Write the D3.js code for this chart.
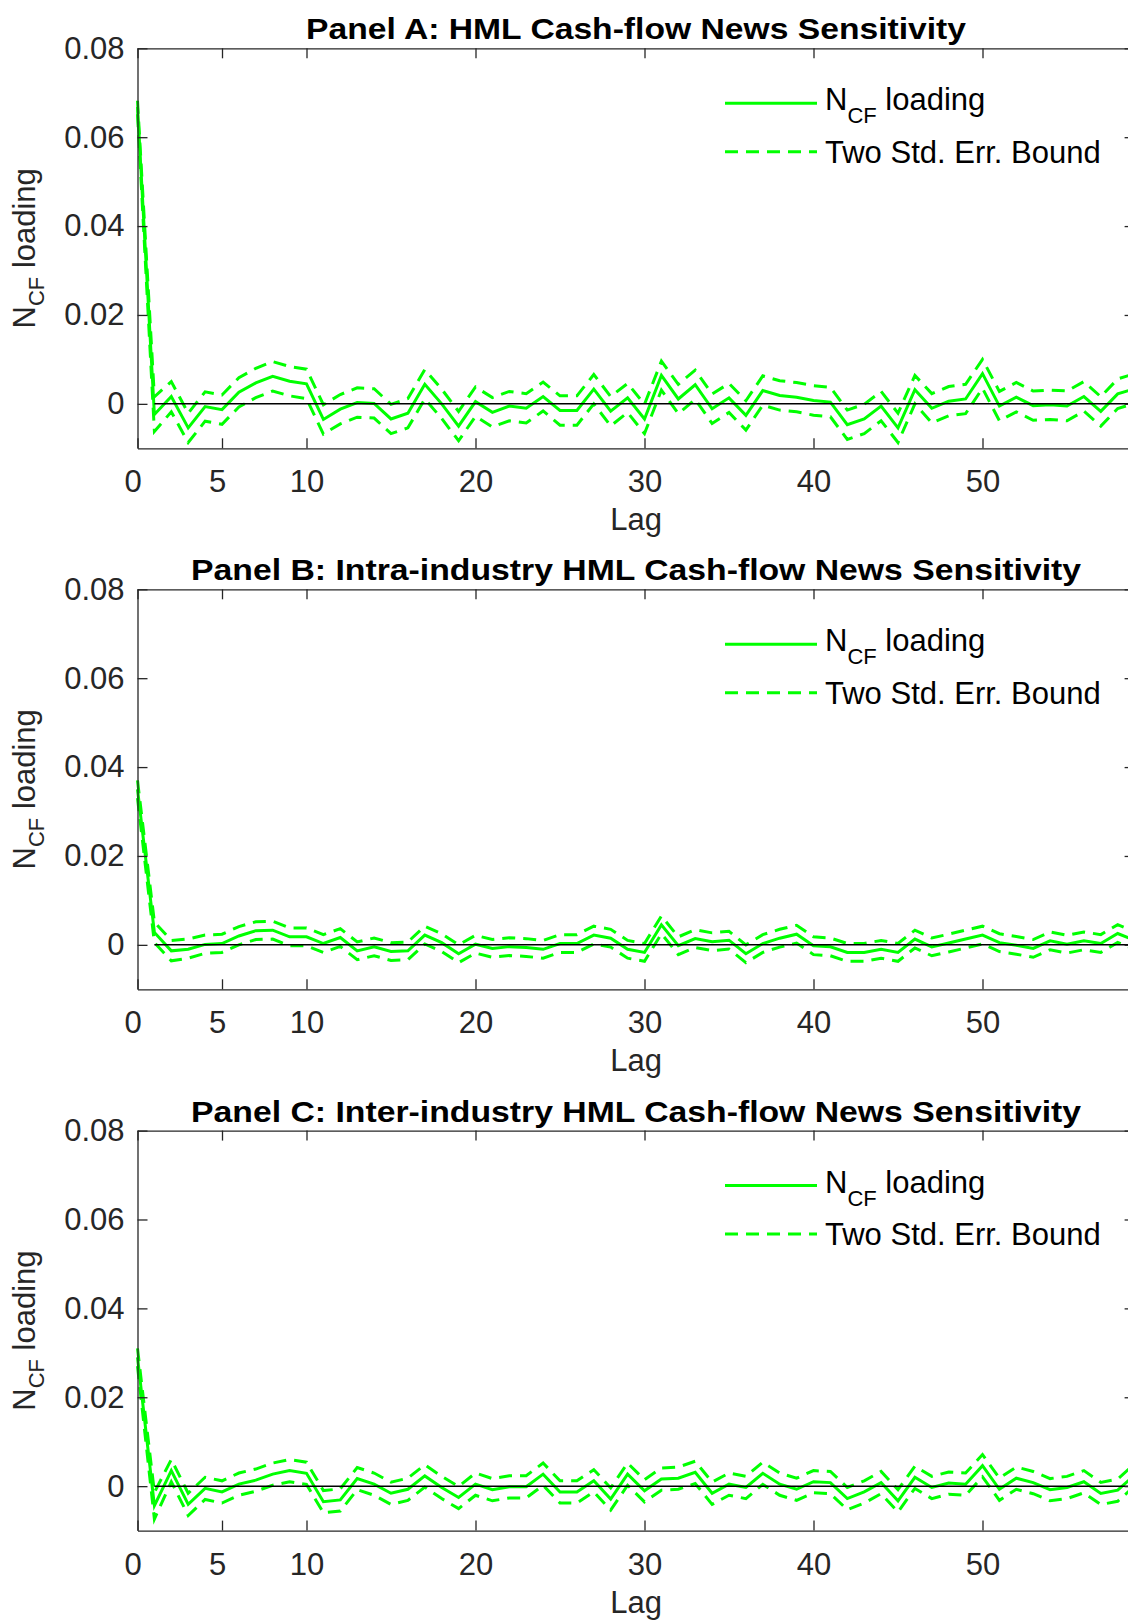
<!DOCTYPE html>
<html>
  <head>
    <style>
      body { margin: 0; background: #fff; }
      text { font-family: "Liberation Sans", Arial, sans-serif; }
    </style>
  </head>
  <body>
    <svg id="container" width="1128" height="1621"></svg>
    <script src="https://cdn.jsdelivr.net/npm/d3@7"></script>
    <script>
      // lags 0..59, loadings in units of 1e-3
      const lags = d3.range(0, 60);
      const xTicks = [0, 5, 10, 20, 30, 40, 50];
      const yTicks = [0, 0.02, 0.04, 0.06, 0.08];

      const panelTitles = [
        "Panel A: HML Cash-flow News Sensitivity",
        "Panel B: Intra-industry HML Cash-flow News Sensitivity",
        "Panel C: Inter-industry HML Cash-flow News Sensitivity"
      ];
      // measured title widths in the original figure
      const titleWidths = [660, 890, 890];

      const loadingA = [66.8, -2.4, 1.65, -5.4, -0.6, -1.3, 2.6, 4.7, 6.2, 5.1, 4.5, -3.5, -1.2, 0.3, 0.1, -3.4, -2.1, 4.4, 0, -5.0,
        0.5, -1.9, -0.5, -1.0, 1.65, -1.5, -1.5, 3.3, -1.65, 1.35, -3.4, 6.4, 1.1, 4.3, -1.1, 1.35, -2.6, 3.0, 1.9, 1.5,
        0.75, 0.4, -4.7, -3.4, -0.5, -5.4, 3.2, -1.0, 0.6, 1.1, 6.8, -0.5, 1.5, -0.4, -0.2, -0.5, 1.65, -1.7, 2.25, 3.4];
      const upperA = [68.2, 1.6, 5.0, -2.1, 2.7, 2.0, 5.9, 8.0, 9.5, 8.4, 7.8, -0.2, 2.1, 3.6, 3.4, -0.1, 1.2, 7.7, 3.3, -1.7,
        3.8, 1.4, 2.8, 2.3, 4.9, 1.8, 1.8, 6.6, 1.65, 4.6, -0.1, 9.6, 4.4, 7.6, 2.2, 4.6, 0.7, 6.3, 5.2, 4.8,
        4.1, 3.7, -1.4, -0.1, 2.8, -2.1, 6.4, 2.3, 3.9, 4.4, 10.0, 2.8, 4.8, 2.9, 3.1, 2.9, 5.0, 1.6, 5.6, 6.8];
      const lowerA = [65.2, -6.2, -1.8, -8.7, -3.9, -4.6, -0.7, 1.4, 2.9, 1.8, 1.2, -6.8, -4.5, -3.0, -3.2, -6.7, -5.4, 1.1, -3.3, -8.3,
        -2.8, -5.2, -3.8, -4.3, -1.6, -4.8, -4.8, 0.0, -4.95, -1.95, -6.7, 3.1, -2.2, 1.0, -4.4, -1.95, -5.9, -0.3, -1.4, -1.8,
        -2.55, -2.9, -8.0, -6.7, -3.8, -8.7, 0.0, -4.3, -2.7, -2.2, 3.5, -3.8, -1.8, -3.7, -3.5, -3.8, -1.65, -5.0, -1.05, 0.1];

      const loadingB = [35, 2.8, -1.35, -1.0, 0.1, 0.3, 2.0, 3.2, 3.3, 1.8, 1.8, 0.3, 1.65, -1.35, -0.45, -1.5, -1.35, 2.2, 0.5, -2.0,
        0.15, -0.8, -0.4, -0.6, -1.0, 0.3, 0.3, 2.2, 1.5, -1.0, -1.7, 4.5, -0.2, 1.4, 0.7, 1.05, -2.0, 0.3, 1.5, 2.4,
        -0.2, -0.45, -1.7, -1.7, -1.0, -1.7, 1.3, -0.45, 0.4, 1.3, 2.2, 0.5, -0.1, -0.8, 0.9, 0.15, 0.9, 0.3, 2.55, 1.0];
      const upperB = [37, 5.1, 1.0, 1.3, 2.2, 2.4, 4.1, 5.2, 5.3, 3.8, 3.8, 2.3, 3.65, 0.65, 1.55, 0.5, 0.65, 4.2, 2.5, 0.0,
        2.15, 1.2, 1.6, 1.4, 1.0, 2.3, 2.3, 4.2, 3.5, 1.0, 0.3, 6.5, 1.8, 3.4, 2.7, 3.05, 0.0, 2.3, 3.5, 4.4,
        1.8, 1.55, 0.3, 0.3, 1.0, 0.3, 3.3, 1.55, 2.4, 3.3, 4.2, 2.5, 1.9, 1.2, 2.9, 2.15, 2.9, 2.3, 4.55, 3.0];
      const lowerB = [33, 0.5, -3.6, -3.0, -1.9, -1.7, 0.0, 1.2, 1.3, -0.2, -0.2, -1.7, -0.35, -3.35, -2.45, -3.5, -3.35, 0.2, -1.5, -4.0,
        -1.85, -2.8, -2.4, -2.6, -3.0, -1.7, -1.7, 0.2, -0.5, -3.0, -3.7, 2.5, -2.2, -0.6, -1.3, -0.95, -4.0, -1.7, -0.5, 0.4,
        -2.2, -2.45, -3.7, -3.7, -3.0, -3.7, -0.7, -2.45, -1.6, -0.7, 0.2, -1.5, -2.1, -2.8, -1.1, -1.85, -1.1, -1.7, 0.55, -1.0];

      const loadingC = [29, -4.4, 3.5, -4.1, -0.5, -1.3, 0.45, 1.35, 2.7, 3.5, 2.9, -3.5, -3.1, 1.7, 0.45, -1.6, -0.7, 2.3, -0.3, -2.55,
        0.45, -0.8, -0.15, -0.15, 2.7, -1.3, -1.3, 1.2, -2.9, 2.7, -1.05, 1.6, 1.8, 3.1, -1.6, 0.45, -0.3, 2.9, 0.45, -0.7,
        1.0, 0.8, -2.8, -1.3, 0.8, -3.3, 2.0, -0.3, 0.7, 0.45, 4.6, -0.7, 1.8, 0.8, -0.8, -0.3, 1.0, -1.65, -0.9, 2.5];
      const upperC = [31, -1.4, 6.0, -1.6, 2.0, 1.2, 2.95, 3.85, 5.2, 6.0, 5.4, -1.0, -0.6, 4.2, 2.95, 0.9, 1.8, 4.8, 2.2, -0.05,
        2.95, 1.7, 2.35, 2.35, 5.2, 1.2, 1.2, 3.7, -0.4, 5.2, 1.45, 4.1, 4.3, 5.6, 0.9, 2.95, 2.2, 5.4, 2.95, 1.8,
        3.5, 3.3, -0.3, 1.2, 3.3, -0.8, 4.5, 2.2, 3.2, 2.95, 7.1, 1.8, 4.3, 3.3, 1.7, 2.2, 3.5, 0.85, 1.6, 5.0];
      const lowerC = [27, -7.4, 1.0, -6.6, -3.0, -3.8, -2.05, -1.15, 0.2, 1.0, 0.4, -6.0, -5.6, -0.8, -2.05, -4.1, -3.2, -0.2, -2.8, -5.05,
        -2.05, -3.3, -2.65, -2.65, 0.2, -3.8, -3.8, -1.3, -5.4, 0.2, -3.55, -0.9, -0.7, 0.6, -4.1, -2.05, -2.8, 0.4, -2.05, -3.2,
        -1.5, -1.7, -5.3, -3.8, -1.7, -5.8, -0.5, -2.8, -1.8, -2.05, 2.1, -3.2, -0.7, -1.7, -3.3, -2.8, -1.5, -4.15, -3.4, 0.0];

      const panels = [
        { title: panelTitles[0], loading: loadingA, upper: upperA, lower: lowerA },
        { title: panelTitles[1], loading: loadingB, upper: upperB, lower: lowerB },
        { title: panelTitles[2], loading: loadingC, upper: upperC, lower: lowerC }
      ];

      const svg = d3.select("#container");
      const green = "#00ff00";
      const axisColor = "#262626";
      const fontSize = 31;
      const tops = [48.3, 589.3, 1130.6];
      const plotHeight = 400;

      const x = d3.scaleLinear().domain([0, 59]).range([137.5, 1134.6]);

      panels.forEach((p, i) => {
        const top = tops[i];
        const y = d3.scaleLinear().domain([-0.01, 0.08]).range([top + plotHeight, top]);
        const g = svg.append("g");

        const line = d3.line()
          .x((d, j) => x(lags[j]))
          .y(d => y(d / 1000));

        // bounds first, then loading, then zero line on top
        [p.upper, p.lower].forEach(arr => {
          g.append("path")
            .attr("d", line(arr))
            .attr("fill", "none")
            .attr("stroke", green)
            .attr("stroke-width", 3)
            .attr("stroke-dasharray", "13 8");
        });
        g.append("path")
          .attr("d", line(p.loading))
          .attr("fill", "none")
          .attr("stroke", green)
          .attr("stroke-width", 3);

        g.append("line")
          .attr("x1", x(1)).attr("x2", x(59))
          .attr("y1", y(0)).attr("y2", y(0))
          .attr("stroke", "#000")
          .attr("stroke-width", 1.5);

        // axes box with inward ticks
        const fmt = d => d === 0 ? "0" : d.toFixed(2);
        const styleAxis = sel => {
          sel.attr("color", axisColor)
            .attr("font-size", fontSize)
            .attr("font-family", "'Liberation Sans', Arial, sans-serif");
          sel.selectAll("path, line").attr("stroke-width", 1.3);
        };
        const bottomAxis = g.append("g")
          .attr("transform", `translate(0,${top + plotHeight})`)
          .call(d3.axisBottom(x).tickValues(xTicks).tickSize(-10).tickSizeOuter(0).tickPadding(22))
          .call(styleAxis);
        // the 0 and 5 labels sit a little left of their ticks in the original
        bottomAxis.selectAll(".tick text").attr("dx", d => d < 10 ? -5 : 0);
        g.append("g")
          .attr("transform", `translate(0,${top})`)
          .call(d3.axisTop(x).tickValues(xTicks).tickSize(-10).tickSizeOuter(0).tickFormat(""))
          .call(styleAxis);
        g.append("g")
          .attr("transform", `translate(${x(0)},0)`)
          .call(d3.axisLeft(y).tickValues(yTicks).tickFormat(fmt).tickSize(-10).tickSizeOuter(0).tickPadding(13))
          .call(styleAxis);
        g.append("g")
          .attr("transform", `translate(${x(59)},0)`)
          .call(d3.axisRight(y).tickValues(yTicks).tickSize(-10).tickSizeOuter(0).tickFormat(""))
          .call(styleAxis);

        // title
        g.append("text")
          .attr("x", (x(0) + x(59)) / 2)
          .attr("y", top - 9)
          .attr("text-anchor", "middle")
          .attr("font-size", 30)
          .attr("font-weight", "bold")
          .attr("textLength", titleWidths[i])
          .attr("lengthAdjust", "spacingAndGlyphs")
          .attr("fill", "#000")
          .text(p.title);

        // x label
        g.append("text")
          .attr("x", (x(0) + x(59)) / 2)
          .attr("y", top + plotHeight + 82)
          .attr("text-anchor", "middle")
          .attr("font-size", fontSize)
          .attr("fill", axisColor)
          .text("Lag");

        // y label
        const yl = g.append("text")
          .attr("transform", `translate(35,${top + plotHeight / 2}) rotate(-90)`)
          .attr("text-anchor", "middle")
          .attr("font-size", fontSize)
          .attr("fill", axisColor);
        yl.append("tspan").text("N");
        yl.append("tspan").attr("font-size", 22).attr("dy", 9).text("CF");
        yl.append("tspan").attr("dy", -9).text(" loading");

        // legend
        const lx0 = 725, lx1 = 817, ly1 = top + 55, ly2 = top + 103.4;
        g.append("line").attr("x1", lx0).attr("x2", lx1).attr("y1", ly1).attr("y2", ly1)
          .attr("stroke", green).attr("stroke-width", 3);
        g.append("line").attr("x1", lx0).attr("x2", lx1).attr("y1", ly2).attr("y2", ly2)
          .attr("stroke", green).attr("stroke-width", 3).attr("stroke-dasharray", "13 8");
        const t1 = g.append("text").attr("x", 825).attr("y", ly1 + 7)
          .attr("font-size", fontSize).attr("fill", "#000");
        t1.append("tspan").text("N");
        t1.append("tspan").attr("font-size", 22).attr("dy", 13).text("CF");
        t1.append("tspan").attr("dy", -13).text(" loading");
        g.append("text").attr("x", 825).attr("y", ly2 + 11)
          .attr("font-size", fontSize).attr("fill", "#000")
          .text("Two Std. Err. Bound");
      });
    </script>
  </body>
</html>
